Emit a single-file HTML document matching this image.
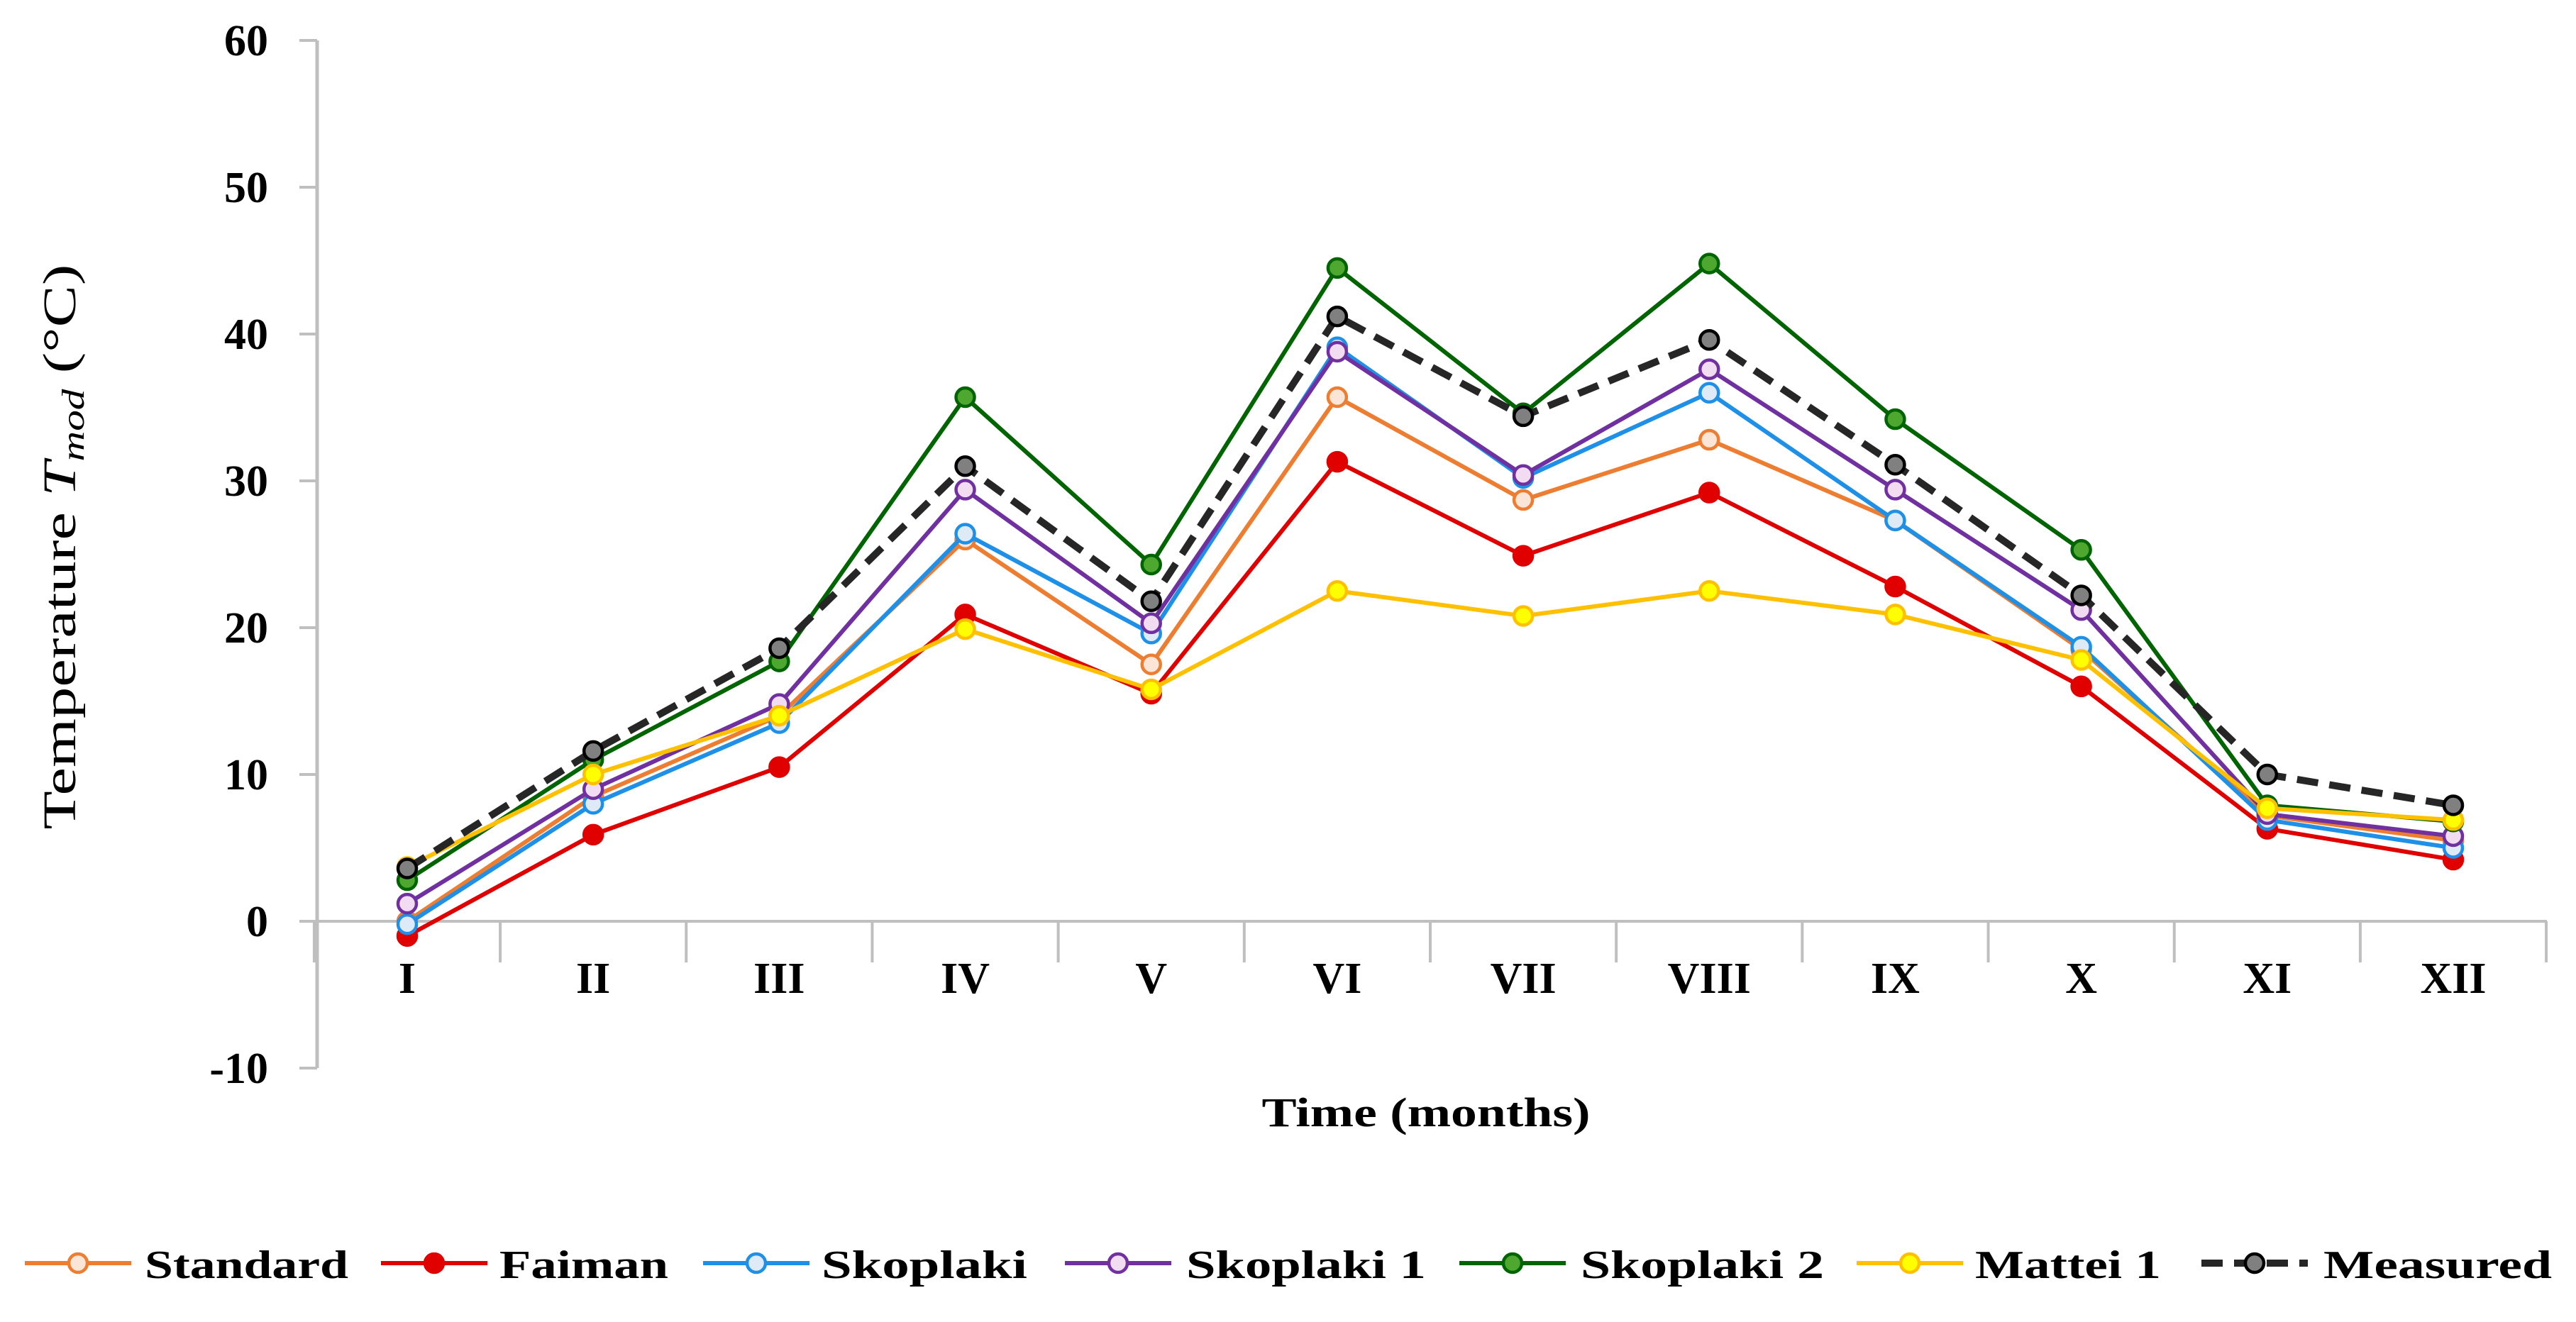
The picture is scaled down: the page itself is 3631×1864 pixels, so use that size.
<!DOCTYPE html>
<html><head><meta charset="utf-8"><style>
html,body{margin:0;padding:0;background:#fff;}
svg{display:block;}
</style></head><body>
<svg id="chart" width="3631" height="1864" viewBox="0 0 3631 1864" xmlns="http://www.w3.org/2000/svg">
<g id="axes"></g>
<g id="series"></g>
<g id="legend"></g>
</svg>
<script>
const categories = ["I","II","III","IV","V","VI","VII","VIII","IX","X","XI","XII"];
const yTicks = [-10,0,10,20,30,40,50,60];
const seriesNames = ["Standard","Faiman","Skoplaki","Skoplaki 1","Skoplaki 2","Mattei 1","Measured"];
const standard = [0,8.5,14,26,17.5,35.7,28.7,32.8,27.3,18.5,7.2,5.5];
const faiman = [-1,5.9,10.5,20.9,15.5,31.3,24.9,29.2,22.8,16,6.3,4.2];
const skoplaki = [-0.2,8,13.5,26.4,19.6,39.1,30.2,36,27.3,18.7,6.9,5];
const skoplaki1 = [1.2,9,14.8,29.4,20.3,38.8,30.4,37.6,29.4,21.2,7.3,5.8];
const skoplaki2 = [2.8,11,17.7,35.7,24.3,44.5,34.6,44.8,34.2,25.3,7.9,6.8];
const mattei1 = [3.7,10,14,19.9,15.8,22.5,20.8,22.5,20.9,17.8,7.7,6.9];
const measured = [3.6,11.6,18.6,31,21.8,41.2,34.4,39.6,31.1,22.2,10,7.9];

const NS="http://www.w3.org/2000/svg";
function mk(tag,attrs,parent,text){const e=document.createElementNS(NS,tag);for(const k in attrs)e.setAttribute(k,attrs[k]);if(text!==undefined)e.textContent=text;parent.appendChild(e);return e;}
const x0=574, dx=(3458-574)/11;
const yZero=1299, yPer=(1505-56)/70;
function xs(i){return x0+i*dx;}
function ys(v){return yZero-v*yPer;}
const axes=document.getElementById('axes');
const FONT='"Liberation Serif", serif';
let e=mk('line',{x1:447,y1:ys(60),x2:447,y2:ys(-10),stroke:'#bfbfbf','stroke-width':5},axes);


yTicks.forEach(v=>{
  let t=mk('line',{x1:422,y1:ys(v),x2:447,y2:ys(v),stroke:'#bfbfbf','stroke-width':4},axes);
  
  
  let l=mk('text',{x:378,y:ys(v)+21,'text-anchor':'end','font-family':FONT,'font-weight':'bold','font-size':62,fill:'#000'},axes,String(v));
  
  
});
e=mk('line',{x1:447,y1:ys(0),x2:3590,y2:ys(0),stroke:'#bfbfbf','stroke-width':4},axes);


for(let i=0;i<=12;i++){
  const xb=x0+(i-0.5)*dx;
  let t=mk('line',{x1:xb,y1:ys(0),x2:xb,y2:ys(0)+58,stroke:'#bfbfbf','stroke-width':4},axes);
  
  
}
categories.forEach((c,i)=>{
  let l=mk('text',{x:xs(i),y:1400,'text-anchor':'middle','font-family':FONT,'font-weight':'bold','font-size':62,fill:'#000'},axes,c);
  
  
});
e=mk('text',{x:2010,y:1588,'text-anchor':'middle','font-family':FONT,'font-weight':'bold','font-size':58,fill:'#000',textLength:463,lengthAdjust:'spacingAndGlyphs'},axes,'Time (months)');


e=mk('text',{transform:'translate(106,771) rotate(-90)','text-anchor':'middle','font-family':FONT,'font-size':66,fill:'#000',textLength:797,lengthAdjust:'spacingAndGlyphs'},axes);


mk('tspan',{},e,'Temperature ');
mk('tspan',{'font-style':'italic'},e,'T');
mk('tspan',{'font-style':'italic','font-size':44,dy:12},e,'mod');
mk('tspan',{dy:-12},e,' (°C)');

const styles=[
 {d:standard,c:'#ed7d31',f:'#fbe5d6',n:'standard'},
 {d:faiman,c:'#e00000',f:'#e00000',n:'faiman'},
 {d:skoplaki,c:'#1e90e8',f:'#deebf7',n:'skoplaki'},
 {d:skoplaki1,c:'#7030a0',f:'#f2dcf2',n:'skoplaki-1'},
 {d:skoplaki2,c:'#006400',f:'#4ea72e',n:'skoplaki-2'},
 {d:mattei1,c:'#ffc000',f:'#ffff00',n:'mattei-1'},
 {d:measured,c:'#262626',f:'#808080',n:'measured',dash:true}
];
const sg=document.getElementById('series');
styles.forEach(s=>{
  const g=mk('g',{},sg);
  
  
  const pts=s.d.map((v,i)=>xs(i)+','+ys(v)).join(' ');
  let p=mk('polyline',{points:pts,fill:'none',stroke:s.c,'stroke-width':s.dash?10:6,'stroke-linejoin':'round'},g);
  if(s.dash)p.setAttribute('stroke-dasharray','30 16');
  
  
  s.d.forEach((v,i)=>{
    let m=mk('circle',{cx:xs(i),cy:ys(v),r:13,fill:s.f,stroke:s.dash?'#000':s.c,'stroke-width':4.5},g);
    
    
  });
});
const lg=document.getElementById('legend');
const legX=[35,537,991,1501,2057,2617,3103];
const legTextX=[204,704,1158,1672,2228,2784,3275];
const legLen=[287,238,290,338,343,262,322];
styles.forEach((s,i)=>{
  const x=legX[i], y=1781;
  const g=mk('g',{},lg);
  
  
  let l=mk('line',{x1:x,y1:y,x2:x+150,y2:y,stroke:s.c,'stroke-width':s.dash?10:6},g);
  if(s.dash)l.setAttribute('stroke-dasharray','30 16');
  mk('circle',{cx:x+75,cy:y,r:13,fill:s.f,stroke:s.dash?'#000':s.c,'stroke-width':4.5},g);
  mk('text',{x:legTextX[i],y:y+21,'font-family':FONT,'font-weight':'bold','font-size':56,fill:'#000',textLength:legLen[i],lengthAdjust:'spacingAndGlyphs'},g,seriesNames[i]);
});
</script>
</body></html>
